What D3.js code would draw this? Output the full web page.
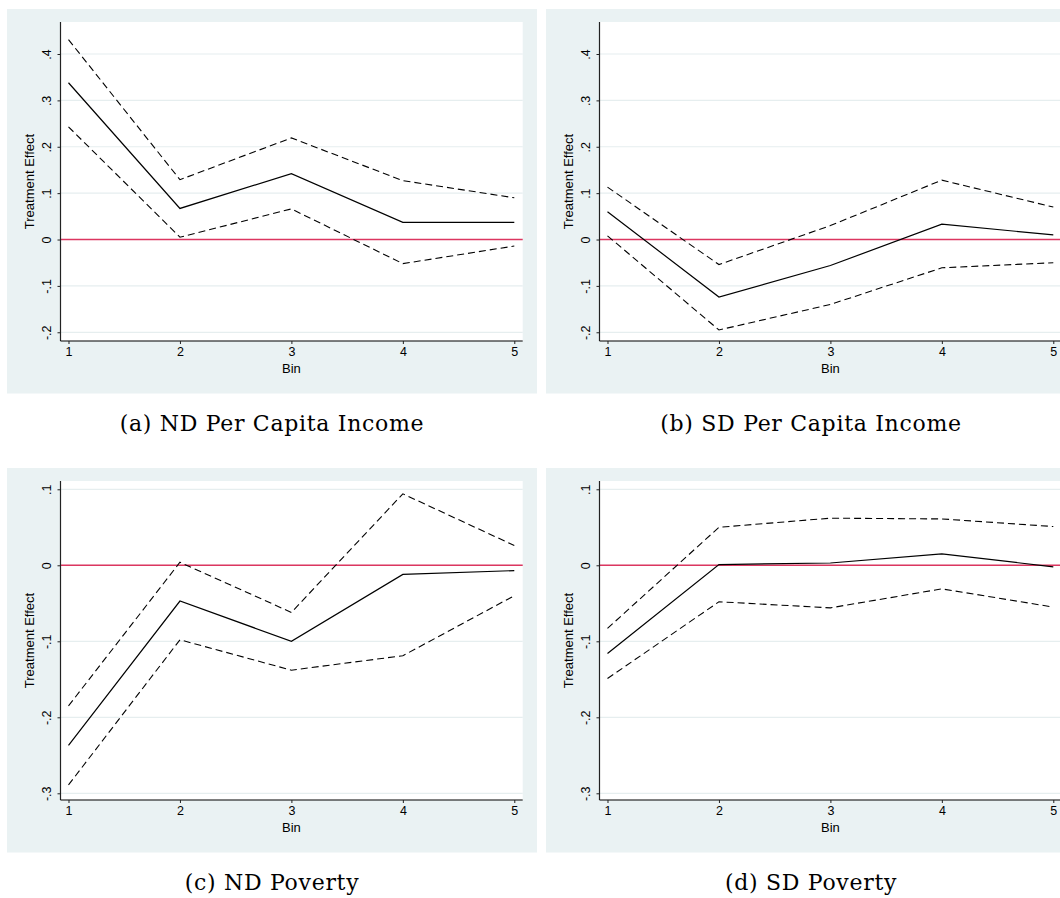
<!DOCTYPE html>
<html>
<head>
<meta charset="utf-8">
<script src="https://cdn.jsdelivr.net/npm/d3@7"></script>
<style>
  html, body { margin: 0; padding: 0; background: #ffffff; }
  svg { display: block; }
  .tick-label { font-family: "Liberation Sans", Arial, sans-serif; font-size: 12.5px; fill: #000; }
  .axis-title { font-family: "Liberation Sans", Arial, sans-serif; font-size: 13px; fill: #000; }
  .caption { font-family: "DejaVu Serif", "Liberation Serif", serif; font-size: 22px; letter-spacing: 0.7px; fill: #000; }
</style>
</head>
<body>
<svg id="chart" width="1060" height="898"></svg>
<script>
// Bins on the x axis
const bins = [1, 2, 3, 4, 5];

// Per capita income: y-axis ticks
const incomeTicks = [-0.2, -0.1, 0, 0.1, 0.2, 0.3, 0.4];
// Poverty: y-axis ticks
const povertyTicks = [-0.3, -0.2, -0.1, 0, 0.1];

// (a) ND Per Capita Income
const ndIncomeEst   = [0.338, 0.067, 0.142, 0.037, 0.037];
const ndIncomeUpper = [0.431, 0.129, 0.219, 0.127, 0.090];
const ndIncomeLower = [0.243, 0.005, 0.066, -0.052, -0.014];

// (b) SD Per Capita Income
const sdIncomeEst   = [0.060, -0.124, -0.056, 0.033, 0.010];
const sdIncomeUpper = [0.113, -0.054, 0.030, 0.128, 0.070];
const sdIncomeLower = [0.008, -0.195, -0.140, -0.061, -0.050];

// (c) ND Poverty
const ndPovertyEst   = [-0.237, -0.047, -0.100, -0.012, -0.007];
const ndPovertyUpper = [-0.185, 0.004, -0.062, 0.094, 0.026];
const ndPovertyLower = [-0.289, -0.098, -0.138, -0.119, -0.040];

// (d) SD Poverty
const sdPovertyEst   = [-0.116, 0.001, 0.003, 0.015, -0.002];
const sdPovertyUpper = [-0.083, 0.050, 0.062, 0.061, 0.051];
const sdPovertyLower = [-0.149, -0.048, -0.056, -0.031, -0.055];

const captions = ["(a) ND Per Capita Income", "(b) SD Per Capita Income", "(c) ND Poverty", "(d) SD Poverty"];

const svg = d3.select("#chart");

// Stata-style tick text: ".4", "-.1", "0"
const stataFmt = v => {
  if (Math.abs(v) < 1e-9) return "0";
  return (v < 0 ? "-" : "") + Math.abs(v).toFixed(1).replace(/^0/, "");
};

const BG = "#eaf2f3";
const GRID = "#e6eeef";

function drawPanel(ox, oy, yDomain, yTicks, est, upper, lower, caption) {
  const g = svg.append("g").attr("transform", `translate(${ox},${oy})`);

  // graph region background
  g.append("rect").attr("x", 7).attr("y", 9).attr("width", 530).attr("height", 384.5).attr("fill", BG);

  const left = 60.5, right = 522.7, top = 22, bottom = 341;
  g.append("rect").attr("x", left).attr("y", top).attr("width", right - left).attr("height", bottom - top).attr("fill", "#fff");

  const x = d3.scaleLinear().domain([0.9283, 5.0754]).range([left, right]);
  const y = d3.scaleLinear().domain(yDomain).range([bottom, top]);

  // horizontal gridlines
  g.append("g").selectAll("line").data(yTicks).join("line")
    .attr("x1", left).attr("x2", right)
    .attr("y1", d => y(d)).attr("y2", d => y(d))
    .attr("stroke", GRID).attr("stroke-width", 1.2);

  // zero reference line
  g.append("line").attr("x1", left).attr("x2", right)
    .attr("y1", y(0)).attr("y2", y(0))
    .attr("stroke", "#dc3660").attr("stroke-width", 1.4);

  const line = d3.line().x((d, i) => x(bins[i])).y(d => y(d));

  g.append("path").datum(upper).attr("d", line).attr("fill", "none")
    .attr("stroke", "#000").attr("stroke-width", 1.1).attr("stroke-dasharray", "7,4");
  g.append("path").datum(lower).attr("d", line).attr("fill", "none")
    .attr("stroke", "#000").attr("stroke-width", 1.1).attr("stroke-dasharray", "7,4");
  g.append("path").datum(est).attr("d", line).attr("fill", "none")
    .attr("stroke", "#000").attr("stroke-width", 1.2);

  // y axis
  const yAxis = d3.axisLeft(y).tickValues(yTicks).tickSize(3).tickFormat(stataFmt);
  const ya = g.append("g").attr("transform", `translate(${left},0)`).call(yAxis);
  ya.select(".domain").attr("stroke", "#222").attr("stroke-width", 1.2).attr("d", `M0,${top}V${bottom}`);
  ya.selectAll(".tick line").attr("stroke", "#222");
  ya.selectAll(".tick text")
    .attr("class", "tick-label")
    .attr("x", 0).attr("dy", null)
    .attr("text-anchor", "middle")
    .attr("transform", "translate(-10,0) rotate(-90)")
    .attr("y", 0)
    .attr("dominant-baseline", "auto");

  // x axis
  const xAxis = d3.axisBottom(x).tickValues(bins).tickSize(3).tickFormat(d3.format("d"));
  const xa = g.append("g").attr("transform", `translate(0,${bottom})`).call(xAxis);
  xa.select(".domain").attr("stroke", "#000").attr("stroke-width", 1.2).attr("d", `M${left},0H${right}`);
  xa.selectAll(".tick line").attr("stroke", "#222");
  xa.selectAll(".tick text").attr("class", "tick-label").attr("y", 6).attr("dy", "0.71em");

  // axis titles
  g.append("text").attr("class", "axis-title")
    .attr("transform", `translate(34,${(top + bottom) / 2}) rotate(-90)`)
    .attr("text-anchor", "middle").text("Treatment Effect");
  g.append("text").attr("class", "axis-title")
    .attr("x", x(3)).attr("y", 373).attr("text-anchor", "middle").text("Bin");

  // subfigure caption
  g.append("text").attr("class", "caption")
    .attr("x", 272).attr("y", 431).attr("text-anchor", "middle").text(caption);
}

drawPanel(0, 0, [-0.2188, 0.469], incomeTicks, ndIncomeEst, ndIncomeUpper, ndIncomeLower, captions[0]);
drawPanel(539, 0, [-0.2188, 0.469], incomeTicks, sdIncomeEst, sdIncomeUpper, sdIncomeLower, captions[1]);
drawPanel(0, 459, [-0.3088, 0.1109], povertyTicks, ndPovertyEst, ndPovertyUpper, ndPovertyLower, captions[2]);
drawPanel(539, 459, [-0.3088, 0.1109], povertyTicks, sdPovertyEst, sdPovertyUpper, sdPovertyLower, captions[3]);
</script>
</body>
</html>
